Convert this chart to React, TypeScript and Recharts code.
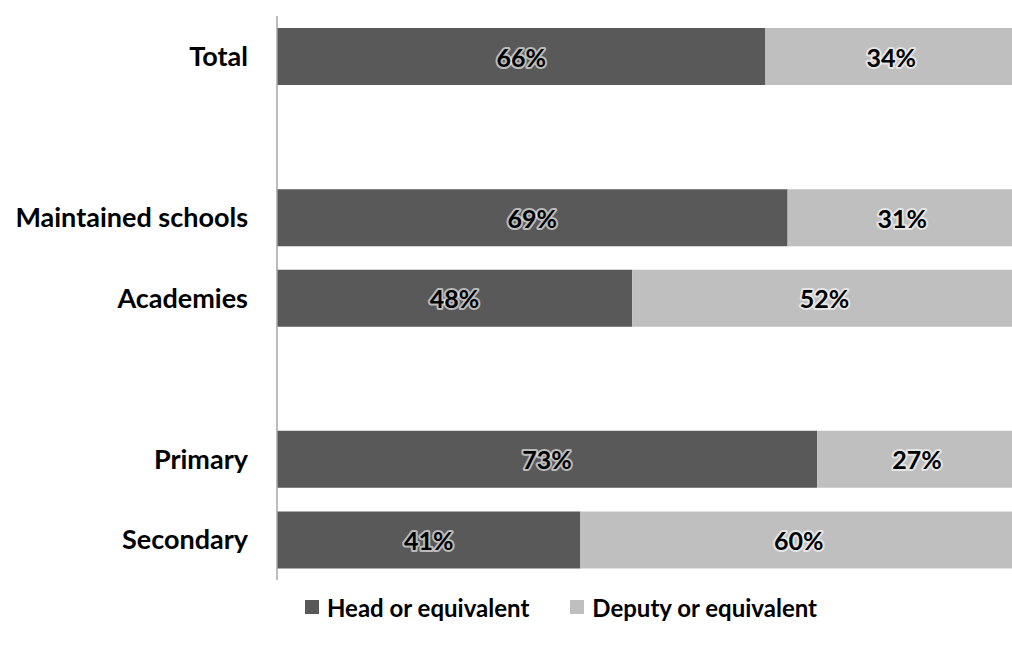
import React from "react";
import { BarChart, Bar, XAxis, YAxis, Legend, LabelList } from "recharts";

const categories = ["Total", "", "Maintained schools", "Academies", "", "Primary", "Secondary"];
const headValues = [66, null, 69, 48, null, 73, 41];
const deputyValues = [34, null, 31, 52, null, 27, 60];

const seriesDefs = [
  { key: "head", name: "Head or equivalent", color: "#595959" },
  { key: "deputy", name: "Deputy or equivalent", color: "#bfbfbf" },
];

const data = categories.map((name, i) => ({
  name,
  head: headValues[i],
  deputy: deputyValues[i],
}));

const FONT = "Lato, 'Open Sans', sans-serif";

const GlowLabel = (props: any) => {
  const { x, y, width, height, value } = props;
  if (value == null) return null;
  return (
    <text
      x={x + width / 2}
      y={y + height / 2}
      textAnchor="middle"
      dominantBaseline="central"
      fontFamily={FONT}
      fontWeight={700}
      fontSize={25}
      fill="#000"
      stroke="#ffffff"
      strokeOpacity={0.6}
      strokeWidth={4}
      strokeLinejoin="round"
      paintOrder="stroke"
    >
      {`${value}%`}
    </text>
  );
};

const LegendContent = () => (
  <div
    style={{
      display: "flex",
      justifyContent: "center",
      alignItems: "center",
      height: 30,
      fontFamily: FONT,
      fontWeight: 700,
      fontSize: 24,
      color: "#000",
    }}
  >
    {seriesDefs.map((s, i) => (
      <div key={s.key} style={{ display: "flex", alignItems: "center", marginRight: i === 0 ? 41 : 0 }}>
        <span style={{ width: 14, height: 14, background: s.color, display: "inline-block", marginRight: 8 }} />
        <span>{s.name}</span>
      </div>
    ))}
  </div>
);

export default function App() {
  return (
    <div style={{ position: "absolute", left: 0, top: 0, width: 1012, height: 648, overflow: "hidden" }}>
      <BarChart
        width={1017}
        height={648}
        data={data}
        layout="vertical"
        margin={{ top: 16, right: 0, left: 0, bottom: 38 }}
        barSize={57}
      >
        <XAxis type="number" domain={[0, 100]} allowDataOverflow hide />
        <YAxis
          type="category"
          dataKey="name"
          width={277}
          axisLine={{ stroke: "#a6a6a6", strokeWidth: 1.5 }}
          tickLine={false}
          tickSize={0}
          tickMargin={29}
          tick={{ fill: "#000", fontSize: 27, fontWeight: 700, fontFamily: FONT }}
        />
        <Legend
          verticalAlign="bottom"
          content={<LegendContent />}
          wrapperStyle={{ left: 0, width: 1122, bottom: 26 }}
        />
        {seriesDefs.map((s) => (
          <Bar key={s.key} dataKey={s.key} name={s.name} stackId="a" fill={s.color} isAnimationActive={false}>
            <LabelList dataKey={s.key} content={<GlowLabel />} />
          </Bar>
        ))}
      </BarChart>
    </div>
  );
}
